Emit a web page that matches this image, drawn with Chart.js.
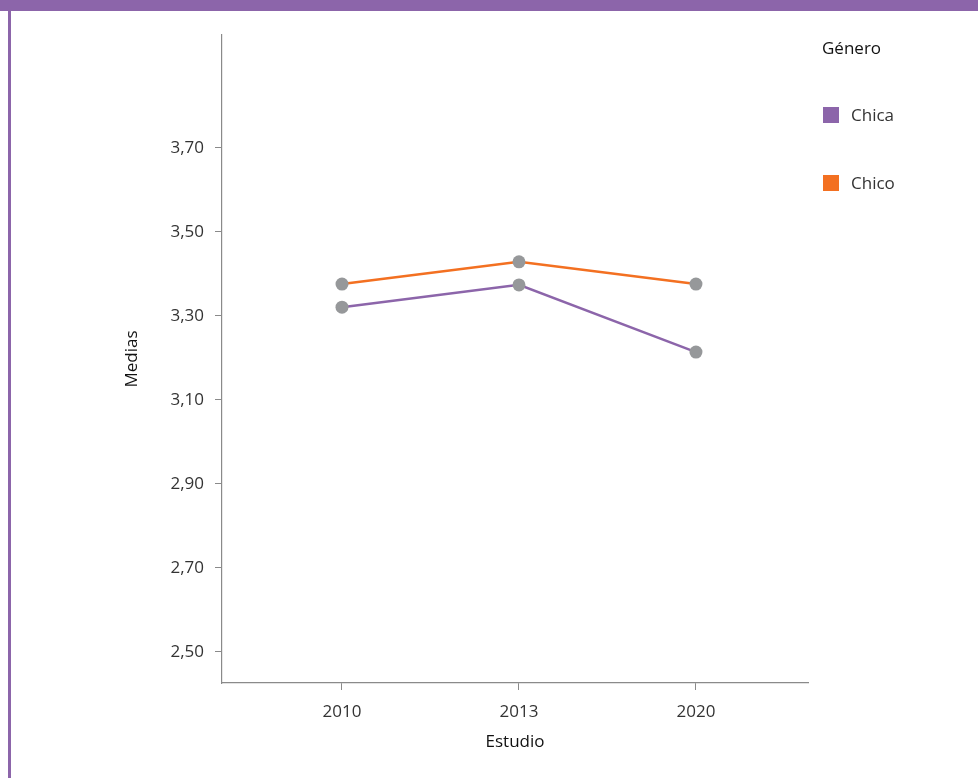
<!DOCTYPE html>
<html lang="es">
<head>
    <meta charset="UTF-8">
    <title>Medias por género</title>
    <script src="https://cdn.jsdelivr.net/npm/chart.js"></script>
    <style>
        html, body { margin: 0; padding: 0; background: #fff; }
        body { width: 978px; height: 778px; position: relative; overflow: hidden; font-family: "Open Sans", Arial, sans-serif; }
        #top-bar { position: absolute; left: 0; top: 0; width: 978px; height: 11px; background: #8c65aa; }
        #left-bar { position: absolute; left: 8px; top: 0; width: 3px; height: 778px; background: #8c65aa; }
        #chart-container { position: absolute; left: 0; top: 0; width: 978px; height: 778px; }
    </style>
</head>
<body>
    <div id="chart-container">
        <canvas id="medias-chart" width="978" height="778"></canvas>
    </div>
    <div id="top-bar"></div>
    <div id="left-bar"></div>

    <script>
        const studies = ['2010', '2013', '2020'];
        const chicaValues = [3.321, 3.374, 3.214];
        const chicoValues = [3.376, 3.429, 3.376];
        const yTicks = [2.5, 2.7, 2.9, 3.1, 3.3, 3.5, 3.7];
        const seriesNames = ['Chica', 'Chico'];
        const seriesColors = ['#8c65aa', '#f37021'];
        const legendTitle = 'Género';

        const FONT = '"Open Sans", Arial, sans-serif';
        const TEXT = '#333333';
        const AXIS = '#8a8a8a';

        function toPoints(values) {
            return values.map((v, i) => ({ x: i, y: v }));
        }

        // legend drawn at the right, outside the plot area
        const sideLegend = {
            id: 'sideLegend',
            afterDraw(chart) {
                const ctx = chart.ctx;
                ctx.save();
                ctx.font = '17px ' + FONT;
                ctx.fillStyle = '#111';
                ctx.textBaseline = 'middle';
                ctx.textAlign = 'left';
                ctx.fillText(legendTitle, 822, 49);
                chart.data.datasets.forEach((ds, i) => {
                    const y = 115 + i * 68;
                    ctx.fillStyle = ds.borderColor;
                    ctx.fillRect(823, y - 8, 16, 16);
                    ctx.fillStyle = TEXT;
                    ctx.fillText(ds.label, 851, y + 1);
                });
                ctx.restore();
            }
        };

        const ctx = document.getElementById('medias-chart').getContext('2d');
        new Chart(ctx, {
            type: 'line',
            data: {
                datasets: [
                    {
                        label: seriesNames[0],
                        data: toPoints(chicaValues),
                        borderColor: seriesColors[0],
                        borderWidth: 2.5,
                        pointBackgroundColor: '#96989a',
                        pointBorderWidth: 0,
                        pointRadius: 6.5,
                        tension: 0
                    },
                    {
                        label: seriesNames[1],
                        data: toPoints(chicoValues),
                        borderColor: seriesColors[1],
                        borderWidth: 2.5,
                        pointBackgroundColor: '#96989a',
                        pointBorderWidth: 0,
                        pointRadius: 6.5,
                        tension: 0
                    }
                ]
            },
            options: {
                responsive: false,
                animation: false,
                layout: { padding: { left: 118, top: 35, right: 170, bottom: 23 } },
                plugins: {
                    legend: { display: false },
                    tooltip: { enabled: false }
                },
                scales: {
                    x: {
                        type: 'linear',
                        min: -0.678,
                        max: 2.633,
                        afterBuildTicks: (scale) => { scale.ticks = studies.map((s, i) => ({ value: i })); },
                        afterFit: (scale) => { scale.height = 72; },
                        border: { color: AXIS, width: 1.2 },
                        grid: { drawOnChartArea: false, drawTicks: true, tickLength: 7, color: AXIS },
                        ticks: {
                            padding: 12,
                            color: TEXT,
                            font: { family: FONT, size: 17 },
                            callback: (value) => studies[value]
                        },
                        title: {
                            display: true,
                            text: 'Estudio',
                            color: '#111',
                            font: { family: FONT, size: 17 },
                            padding: 3
                        }
                    },
                    y: {
                        min: 2.426,
                        max: 3.969,
                        afterBuildTicks: (scale) => { scale.ticks = yTicks.map(v => ({ value: v })); },
                        afterFit: (scale) => { scale.width = 104; },
                        border: { color: AXIS, width: 1.2 },
                        grid: { drawOnChartArea: false, drawTicks: true, tickLength: 7, color: AXIS },
                        ticks: {
                            padding: 11,
                            color: TEXT,
                            font: { family: FONT, size: 17 },
                            callback: (value) => value.toFixed(2).replace('.', ',')
                        },
                        title: {
                            display: true,
                            text: 'Medias',
                            color: '#111',
                            font: { family: FONT, size: 17 },
                            padding: 4
                        }
                    }
                }
            },
            plugins: [sideLegend]
        });
    </script>
</body>
</html>
